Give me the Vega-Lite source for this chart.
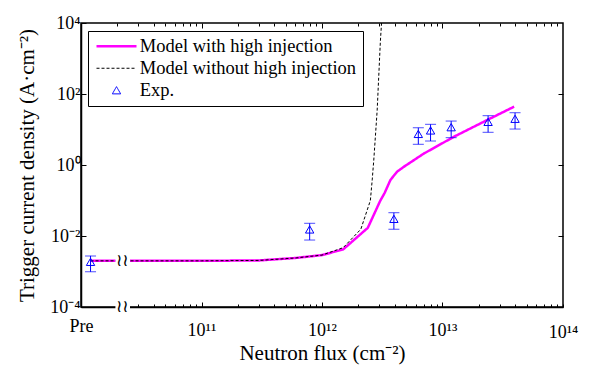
{
  "$schema": "https://vega.github.io/schema/vega-lite/v6.json",
  "width": 482,
  "height": 284,
  "autosize": "none",
  "padding": {"left": 81, "top": 23, "right": 29, "bottom": 65},
  "background": "white",
  "config": {
    "view": {"stroke": "black", "strokeWidth": 1.5},
    "font": "Liberation Serif",
    "axis": {"grid": false, "tickColor": "black", "tickWidth": 1, "domainColor": "black", "domainWidth": 1.5, "labelColor": "black", "titleColor": "black", "labelFont": "Liberation Serif", "titleFont": "Liberation Serif", "labelFontSize": 18, "titleFontSize": 21, "titleFontWeight": "normal", "labelFlush": false, "labelOverlap": false}
  },
  "datasets": {
    "model": [
      {"series": "Model with high injection", "x": 1.2e10, "y": 0.002},
      {"series": "Model with high injection", "x": 1e11, "y": 0.002},
      {"series": "Model with high injection", "x": 3e11, "y": 0.00205},
      {"series": "Model with high injection", "x": 6e11, "y": 0.0024},
      {"series": "Model with high injection", "x": 1e12, "y": 0.0029},
      {"series": "Model with high injection", "x": 1.5e12, "y": 0.0042},
      {"series": "Model with high injection", "x": 2.4e12, "y": 0.017},
      {"series": "Model with high injection", "x": 3.05e12, "y": 0.1},
      {"series": "Model with high injection", "x": 3.3e12, "y": 0.16},
      {"series": "Model with high injection", "x": 3.7e12, "y": 0.38},
      {"series": "Model with high injection", "x": 4.2e12, "y": 0.65},
      {"series": "Model with high injection", "x": 4.8e12, "y": 0.9},
      {"series": "Model with high injection", "x": 7e12, "y": 2.1},
      {"series": "Model with high injection", "x": 1.25e13, "y": 6.3},
      {"series": "Model with high injection", "x": 2.35e13, "y": 18.5},
      {"series": "Model with high injection", "x": 3.93e13, "y": 44},
      {"series": "Model without high injection", "x": 1.2e10, "y": 0.002},
      {"series": "Model without high injection", "x": 1e11, "y": 0.002},
      {"series": "Model without high injection", "x": 3e11, "y": 0.00205},
      {"series": "Model without high injection", "x": 6e11, "y": 0.0024},
      {"series": "Model without high injection", "x": 1e12, "y": 0.0029},
      {"series": "Model without high injection", "x": 1.5e12, "y": 0.0047},
      {"series": "Model without high injection", "x": 2.1e12, "y": 0.0155},
      {"series": "Model without high injection", "x": 2.52e12, "y": 0.1},
      {"series": "Model without high injection", "x": 2.61e12, "y": 0.38},
      {"series": "Model without high injection", "x": 2.69e12, "y": 1.38},
      {"series": "Model without high injection", "x": 2.87e12, "y": 35},
      {"series": "Model without high injection", "x": 3.05e12, "y": 3000},
      {"series": "Model without high injection", "x": 3.12e12, "y": 10000}
    ],
    "exp": [
      {"series": "Exp.", "x": 1.2e10, "y": 0.00187, "lo": 0.00098, "hi": 0.00275},
      {"series": "Exp.", "x": 7.9e11, "y": 0.0153, "lo": 0.0077, "hi": 0.0228},
      {"series": "Exp.", "x": 3.95e12, "y": 0.0304, "lo": 0.0155, "hi": 0.0453},
      {"series": "Exp.", "x": 6.3e12, "y": 7.5, "lo": 3.83, "hi": 11.2},
      {"series": "Exp.", "x": 7.96e12, "y": 9.4, "lo": 4.74, "hi": 14.0},
      {"series": "Exp.", "x": 1.18e13, "y": 11.6, "lo": 5.88, "hi": 17.3},
      {"series": "Exp.", "x": 2.39e13, "y": 16.4, "lo": 8.34, "hi": 24.5},
      {"series": "Exp.", "x": 4.0e13, "y": 20, "lo": 10.3, "hi": 29.7}
    ],
    "brk": [
      {"xm": 2.2e10, "ym": 0.002, "x0": 1.93e10, "x1": 2.55e10, "y0": 0.0016, "y1": 0.0025},
      {"xm": 2.2e10, "ym": 0.0001, "x0": 1.93e10, "x1": 2.55e10, "y0": 0.00008, "y1": 0.000125}
    ]
  },
  "resolve": {"axis": {"x": "independent", "y": "independent"}},
  "layer": [
    {
      "data": {"name": "model"},
      "transform": [{"filter": "datum.series === 'Model with high injection'"}],
      "mark": {"type": "line", "strokeWidth": 2.5, "clip": true},
      "encoding": {
        "x": {"field": "x", "type": "quantitative", "scale": {"type": "log", "domain": [1e10, 1e14], "nice": false},
          "axis": {"orient": "bottom", "values": [1e10, 3e10, 4e10, 5e10, 6e10, 7e10, 8e10, 9e10, 1e11, 2e11, 3e11, 4e11, 5e11, 6e11, 7e11, 8e11, 9e11, 1e12, 2e12, 3e12, 4e12, 5e12, 6e12, 7e12, 8e12, 9e12, 1e13, 2e13, 3e13, 4e13, 5e13, 6e13, 7e13, 8e13, 9e13, 1e14],
            "labelExpr": "datum.value == 1e10 ? 'Pre' : datum.value == 1e11 ? '10¹¹' : datum.value == 1e12 ? '10¹²' : datum.value == 1e13 ? '10¹³' : datum.value == 1e14 ? '10¹⁴' : ''",
            "tickSize": {"condition": {"test": "datum.value == 1e11 || datum.value == 1e12 || datum.value == 1e13", "value": -5}, "value": -3},
            "labelPadding": {"condition": {"test": "datum.value == 1e10", "value": 13}, "value": 19},
            "title": "Neutron flux (cm⁻²)", "titlePadding": 1}},
        "y": {"field": "y", "type": "quantitative", "scale": {"type": "log", "domain": [1e-4, 1e4], "nice": false},
          "axis": {"orient": "left", "values": [1e-4, 1e-2, 1, 100, 10000],
            "labelExpr": "datum.value < 1e-3 ? '10⁻⁴' : datum.value < 0.1 ? '10⁻²' : datum.value < 10 ? '10⁰' : datum.value < 1000 ? '10²' : '10⁴'",
            "tickSize": -5, "labelPadding": 6, "title": "Trigger current density (A·cm⁻²)", "titlePadding": 12}},
        "color": {"field": "series", "type": "nominal",
          "scale": {"domain": ["Model with high injection", "Model without high injection", "Exp."], "range": ["#ff00ff", "#000000", "#0000ff"]},
          "legend": {"orient": "none", "legendX": 7, "legendY": 8, "title": null, "strokeColor": "black", "fillColor": "white", "padding": 6,
            "labelFont": "Liberation Serif", "labelFontSize": 18.5, "labelColor": "black", "labelOffset": 14, "symbolOffset": 13.25, "rowPadding": 3, "labelLimit": 0,
            "symbolSize": 1600, "symbolStrokeWidth": 1,
            "encode": {"symbols": {"update": {
              "size": {"signal": "datum.value === 'Exp.' ? 70 : 1600"},
              "strokeWidth": {"signal": "datum.value === 'Model with high injection' ? 2.5 : 1"},
              "fill": {"value": "transparent"}}}}}},
        "strokeDash": {"field": "series", "type": "nominal",
          "scale": {"domain": ["Model with high injection", "Model without high injection", "Exp."], "range": [[1, 0], [3, 2], [1, 0]]}}
      }
    },
    {
      "data": {"name": "model"},
      "transform": [{"filter": "datum.series === 'Model without high injection'"}],
      "mark": {"type": "line", "strokeWidth": 1, "clip": true},
      "encoding": {
        "x": {"field": "x", "type": "quantitative", "scale": {"type": "log", "domain": [1e10, 1e14], "nice": false},
          "axis": {"orient": "top", "values": [2e10, 3e10, 4e10, 5e10, 6e10, 7e10, 8e10, 9e10, 1e11, 2e11, 3e11, 4e11, 5e11, 6e11, 7e11, 8e11, 9e11, 1e12, 2e12, 3e12, 4e12, 5e12, 6e12, 7e12, 8e12, 9e12, 1e13, 2e13, 3e13, 4e13, 5e13, 6e13, 7e13, 8e13, 9e13],
            "labels": false, "domain": false, "title": null,
            "tickSize": {"condition": {"test": "datum.value == 1e11 || datum.value == 1e12 || datum.value == 1e13", "value": -5}, "value": -3}}},
        "y": {"field": "y", "type": "quantitative", "scale": {"type": "log", "domain": [1e-4, 1e4], "nice": false},
          "axis": {"orient": "right", "values": [1e-2, 1, 100], "labels": false, "domain": false, "title": null, "tickSize": -5}},
        "color": {"field": "series", "type": "nominal", "scale": {"domain": ["Model with high injection", "Model without high injection", "Exp."], "range": ["#ff00ff", "#000000", "#0000ff"]}},
        "strokeDash": {"field": "series", "type": "nominal", "scale": {"domain": ["Model with high injection", "Model without high injection", "Exp."], "range": [[1, 0], [3, 2], [1, 0]]}}
      }
    },
    {
      "data": {"name": "exp"},
      "mark": {"type": "rule", "color": "#0000ff", "strokeWidth": 1},
      "encoding": {
        "x": {"field": "x", "type": "quantitative", "scale": {"type": "log", "domain": [1e10, 1e14], "nice": false}, "axis": null},
        "y": {"field": "lo", "type": "quantitative", "scale": {"type": "log", "domain": [1e-4, 1e4], "nice": false}, "axis": null},
        "y2": {"field": "hi"}
      }
    },
    {
      "data": {"name": "exp"},
      "mark": {"type": "tick", "orient": "horizontal", "color": "#0000ff", "size": 11, "thickness": 1},
      "encoding": {
        "x": {"field": "x", "type": "quantitative", "scale": {"type": "log", "domain": [1e10, 1e14], "nice": false}, "axis": null},
        "y": {"field": "lo", "type": "quantitative", "scale": {"type": "log", "domain": [1e-4, 1e4], "nice": false}, "axis": null}
      }
    },
    {
      "data": {"name": "exp"},
      "mark": {"type": "tick", "orient": "horizontal", "color": "#0000ff", "size": 11, "thickness": 1},
      "encoding": {
        "x": {"field": "x", "type": "quantitative", "scale": {"type": "log", "domain": [1e10, 1e14], "nice": false}, "axis": null},
        "y": {"field": "hi", "type": "quantitative", "scale": {"type": "log", "domain": [1e-4, 1e4], "nice": false}, "axis": null}
      }
    },
    {
      "data": {"name": "exp"},
      "mark": {"type": "point", "filled": false, "size": 70, "strokeWidth": 1, "opacity": 1},
      "encoding": {
        "x": {"field": "x", "type": "quantitative", "scale": {"type": "log", "domain": [1e10, 1e14], "nice": false}, "axis": null},
        "y": {"field": "y", "type": "quantitative", "scale": {"type": "log", "domain": [1e-4, 1e4], "nice": false}, "axis": null},
        "color": {"field": "series", "type": "nominal", "scale": {"domain": ["Model with high injection", "Model without high injection", "Exp."], "range": ["#ff00ff", "#000000", "#0000ff"]}},
        "shape": {"field": "series", "type": "nominal", "scale": {"domain": ["Model with high injection", "Model without high injection", "Exp."], "range": ["stroke", "stroke", "triangle-up"]}}
      }
    },
    {
      "data": {"name": "brk"},
      "mark": {"type": "rect", "color": "white"},
      "encoding": {
        "x": {"field": "x0", "type": "quantitative", "scale": {"type": "log", "domain": [1e10, 1e14], "nice": false}, "axis": null},
        "x2": {"field": "x1"},
        "y": {"field": "y0", "type": "quantitative", "scale": {"type": "log", "domain": [1e-4, 1e4], "nice": false}, "axis": null},
        "y2": {"field": "y1"}
      }
    },
    {
      "data": {"name": "brk"},
      "mark": {"type": "text", "text": "≀≀", "font": "DejaVu Sans", "fontSize": 17, "color": "black"},
      "encoding": {
        "x": {"field": "xm", "type": "quantitative", "scale": {"type": "log", "domain": [1e10, 1e14], "nice": false}, "axis": null},
        "y": {"field": "ym", "type": "quantitative", "scale": {"type": "log", "domain": [1e-4, 1e4], "nice": false}, "axis": null}
      }
    }
  ]
}
